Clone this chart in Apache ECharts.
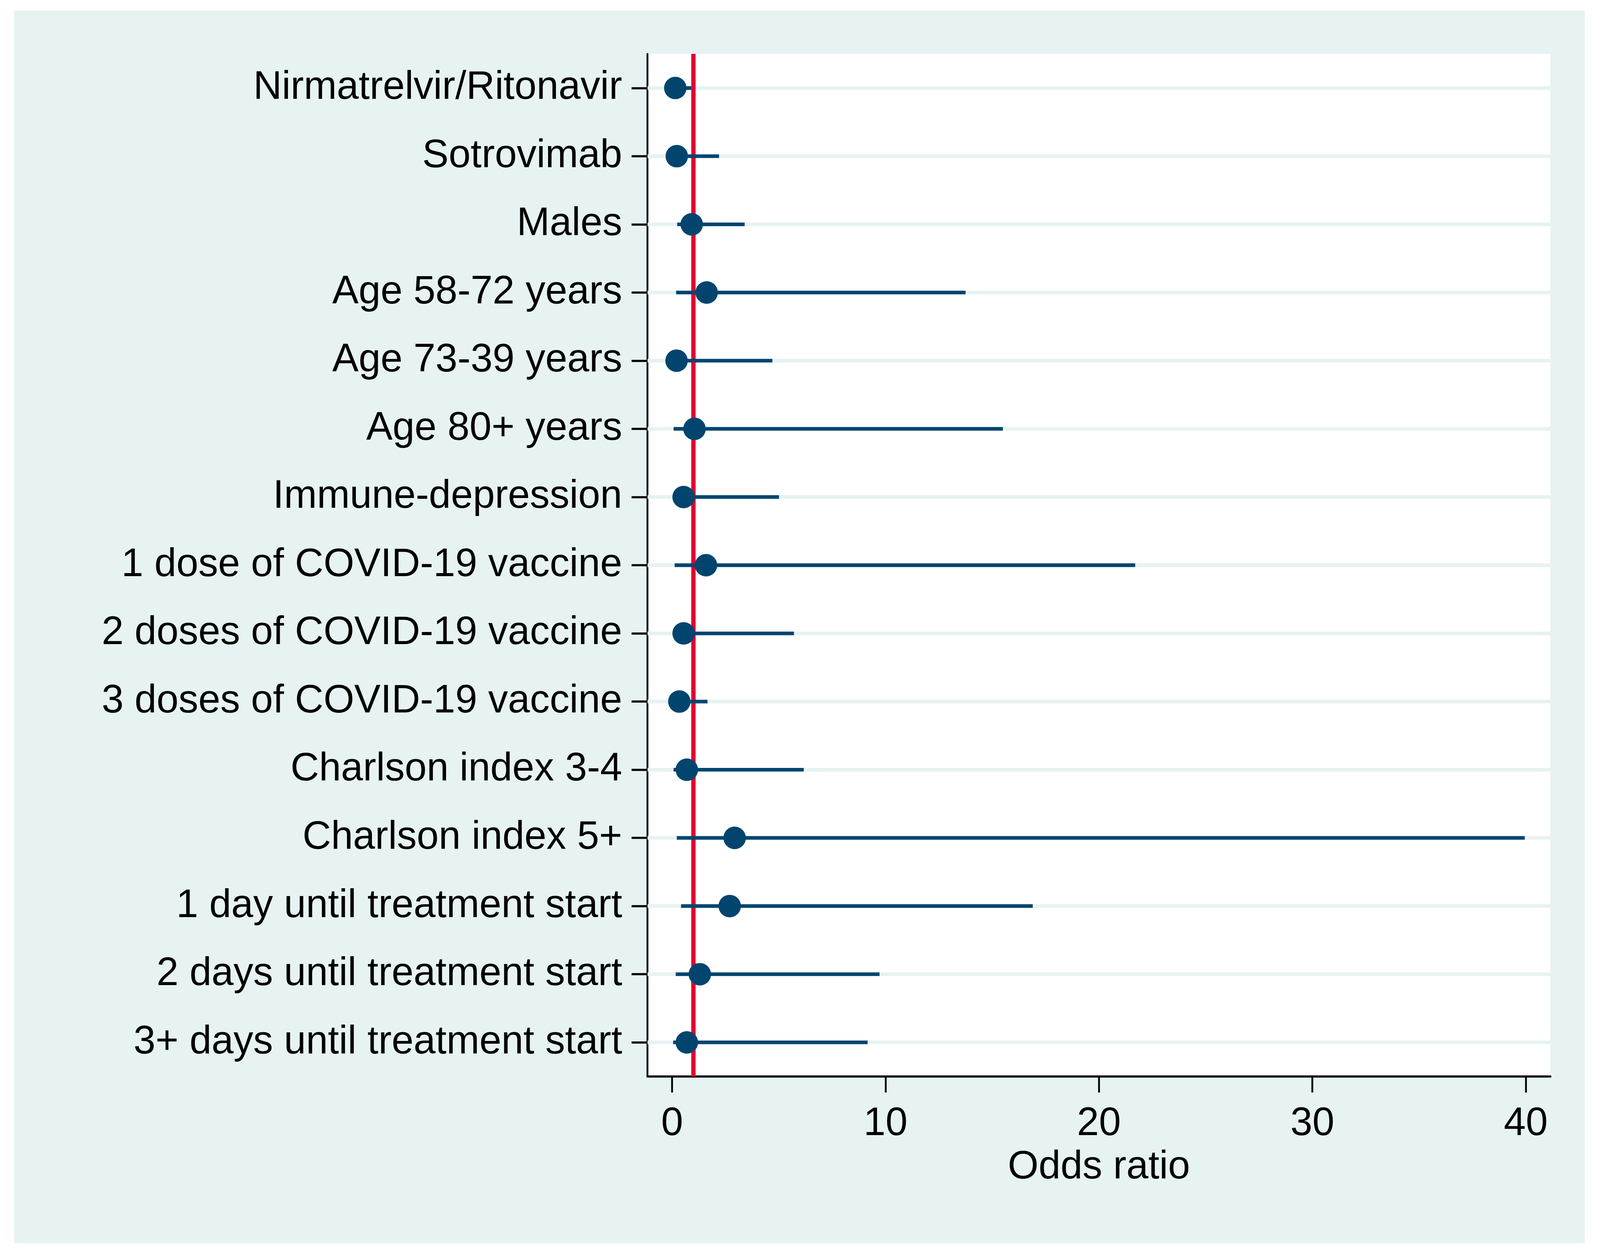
<!DOCTYPE html>
<html>
<head>
<meta charset="utf-8">
<title>Odds ratio forest plot</title>
<script src="https://cdn.jsdelivr.net/npm/echarts@6/dist/echarts.min.js"></script>
<style>
  html, body { margin: 0; padding: 0; background: #ffffff; overflow: hidden; }
  #chart { width: 100vw; height: 100vh; }
</style>
</head>
<body>
<div id="chart"></div>
<script>
// categories, top to bottom
var categories = [
    "Nirmatrelvir/Ritonavir",
    "Sotrovimab",
    "Males",
    "Age 58-72 years",
    "Age 73-39 years",
    "Age 80+ years",
    "Immune-depression",
    "1 dose of COVID-19 vaccine",
    "2 doses of COVID-19 vaccine",
    "3 doses of COVID-19 vaccine",
    "Charlson index 3-4",
    "Charlson index 5+",
    "1 day until treatment start",
    "2 days until treatment start",
    "3+ days until treatment start"
];

// odds ratios and 95% CI bounds
var oddsRatio = [0.15, 0.22, 0.92, 1.62, 0.21, 1.05, 0.54, 1.59, 0.54, 0.34, 0.69, 2.93, 2.70, 1.30, 0.69];
var ciLower   = [0.03, 0.05, 0.24, 0.19, 0.05, 0.07, 0.10, 0.12, 0.10, 0.08, 0.07, 0.22, 0.42, 0.17, 0.05];
var ciUpper   = [0.90, 2.20, 3.40, 13.75, 4.70, 15.50, 5.01, 21.70, 5.71, 1.66, 6.17, 39.95, 16.90, 9.72, 9.16];

var xTicks = [0, 10, 20, 30, 40];
var refLine = 1;

var navy = "#01456f";
var red = "#e00034";
var teal = "#e7f2f2";
var font = "Liberation Sans, Arial, Helvetica, sans-serif";

// layout was measured on a 4413 x 3213 picture; scale to the real window
var W0 = 4413, H0 = 3213;

function drawForest() {
    var dom = document.getElementById("chart");
    var myChart = echarts.init(dom, null, { renderer: "canvas" });
    var W = dom.clientWidth || W0;
    var H = dom.clientHeight || H0;
    var sx = W / W0, sy = H / H0, s = Math.min(sx, sy);

    var gridData = categories.map(function (c, i) { return [0, i]; });
    var ciData = categories.map(function (c, i) { return [ciLower[i], ciUpper[i], i]; });
    var pointData = categories.map(function (c, i) { return [oddsRatio[i], i]; });

    var fs = 109 * s;

    var option = {
        animation: false,
        backgroundColor: "#ffffff",
        graphic: [{
            type: "rect",
            z: -10,
            silent: true,
            shape: { x: 39 * sx, y: 27 * sy, width: 4332 * sx, height: 3156 * sy },
            style: { fill: teal }
        }],
        grid: {
            left: 1786 * sx,
            top: 138 * sy,
            right: 137 * sx,
            bottom: 457 * sy,
            show: true,
            backgroundColor: "#ffffff",
            borderWidth: 0
        },
        xAxis: {
            type: "value",
            min: -1.15,
            max: 41.15,
            name: "Odds ratio",
            nameLocation: "middle",
            nameGap: 183 * sy,
            nameTextStyle: { fontSize: fs, color: "#000", fontFamily: font },
            axisLine: { show: true, lineStyle: { color: "#000", width: 6 * s } },
            axisTick: { show: true, length: 41 * sy, customValues: xTicks, lineStyle: { color: "#000", width: 5 * s } },
            axisLabel: { fontSize: fs, color: "#000", fontFamily: font, margin: 72 * sy, customValues: xTicks },
            splitLine: { show: false }
        },
        yAxis: {
            type: "category",
            data: categories,
            inverse: true,
            boundaryGap: true,
            axisLine: { show: true, onZero: false, lineStyle: { color: "#000", width: 5 * s } },
            axisTick: { show: true, alignWithLabel: true, length: 44 * sx, lineStyle: { color: "#000", width: 6 * s } },
            axisLabel: { fontSize: fs, color: "#000", fontFamily: font, margin: 70 * sx, interval: 0 },
            splitLine: { show: false }
        },
        series: [
            {
                // light horizontal grid lines at each category
                type: "custom",
                z: 1,
                silent: true,
                data: gridData,
                renderItem: function (params, api) {
                    var cs = params.coordSys;
                    var y = api.coord([0, api.value(1)])[1];
                    return {
                        type: "line",
                        shape: { x1: cs.x, y1: y, x2: cs.x + cs.width, y2: y },
                        style: { stroke: teal, lineWidth: 10 * s }
                    };
                }
            },
            {
                // reference line at OR = 1
                type: "custom",
                z: 2,
                silent: true,
                data: [[refLine, 0]],
                renderItem: function (params, api) {
                    var cs = params.coordSys;
                    var x = api.coord([api.value(0), 0])[0];
                    return {
                        type: "line",
                        shape: { x1: x, y1: cs.y, x2: x, y2: cs.y + cs.height },
                        style: { stroke: red, lineWidth: 12 * s }
                    };
                }
            },
            {
                // confidence intervals
                type: "custom",
                z: 3,
                silent: true,
                data: ciData,
                encode: { x: [0, 1], y: 2 },
                renderItem: function (params, api) {
                    var p1 = api.coord([api.value(0), api.value(2)]);
                    var p2 = api.coord([api.value(1), api.value(2)]);
                    return {
                        type: "line",
                        shape: { x1: p1[0], y1: p1[1], x2: p2[0], y2: p2[1] },
                        style: { stroke: navy, lineWidth: 10 * s, lineCap: "butt" }
                    };
                }
            },
            {
                type: "scatter",
                z: 4,
                silent: true,
                symbol: "circle",
                symbolSize: 62 * s,
                itemStyle: { color: navy, opacity: 1 },
                data: pointData
            }
        ]
    };

    if (option && typeof option === "object") {
        myChart.setOption(option, true);
    }
}

drawForest();
</script>
</body>
</html>
